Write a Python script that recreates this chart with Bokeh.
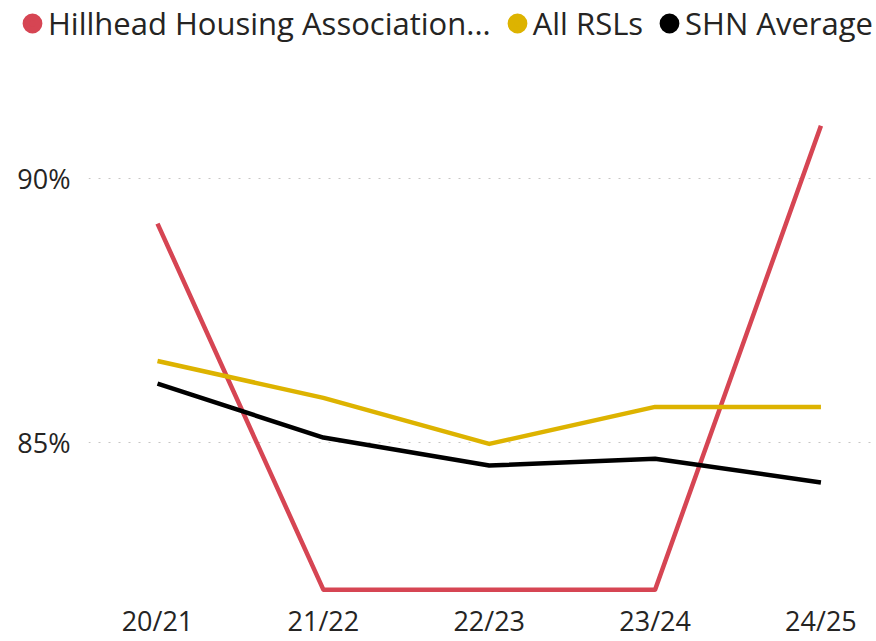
from bokeh.plotting import figure
from bokeh.layouts import column
from bokeh.models import Range1d, FixedTicker, Legend, LegendItem
from bokeh.embed import file_html
from bokeh.resources import INLINE

categories = ["20/21", "21/22", "22/23", "23/24", "24/25"]
hillhead = [89.15, 82.22, 82.22, 82.22, 91.0]
all_rsls = [86.55, 85.85, 84.98, 85.68, 85.68]
shn_avg = [86.12, 85.10, 84.57, 84.70, 84.25]
y_ticks = [85, 90]
y_tick_labels = ["85%", "90%"]

series_names = ["Hillhead Housing Association...", "All RSLs", "SHN Average"]
colors = ["#D64553", "#DDB300", "#000000"]

x = list(range(len(categories)))

LEG_H = 50

# legend strip (its own small figure, frame spanning the whole width)
lf = figure(width=876, height=LEG_H, output_backend="svg", toolbar_location=None,
            x_axis_type=None, y_axis_type=None,
            x_range=Range1d(0, 1), y_range=Range1d(0, 1),
            min_border=0)
lf.frame_align = False
lf.outline_line_color = None
lf.xgrid.grid_line_color = None
lf.ygrid.grid_line_color = None

items = []
for name, vals, col in zip(series_names, [hillhead, all_rsls, shn_avg], colors):
    # zero-size markers (outside this strip's ranges); only the legend swatch shows
    d = lf.scatter(x, vals, size=0, fill_color=col, line_color=col, line_width=7)
    items.append(LegendItem(label=name, renderers=[d]))

legend = Legend(items=items, orientation="horizontal", location=(16, 6),
                label_text_font="Open Sans", label_text_font_size="31px",
                label_text_color="#252423", glyph_width=32, glyph_height=32,
                label_standoff=0, spacing=10, padding=0, margin=0,
                border_line_color=None, background_fill_alpha=0)
lf.add_layout(legend, "center")

# main chart
p = figure(width=876, height=641 - LEG_H, output_backend="svg", toolbar_location=None,
           x_range=Range1d(-0.416, 4.335), y_range=Range1d(82.11, 91.48),
           min_border_left=88, min_border_right=0, min_border_top=100 - LEG_H,
           min_border_bottom=0)
p.frame_align = False
p.outline_line_color = None
p.background_fill_color = "white"

for vals, col in zip([hillhead, all_rsls, shn_avg], colors):
    p.line(x, vals, line_color=col, line_width=4.5, line_join="round")

p.xaxis.ticker = FixedTicker(ticks=x)
p.xaxis.major_label_overrides = {i: c for i, c in zip(x, categories)}
p.yaxis.ticker = FixedTicker(ticks=y_ticks)
p.yaxis.major_label_overrides = {t: l for t, l in zip(y_ticks, y_tick_labels)}

for ax in (p.xaxis, p.yaxis):
    ax.axis_line_color = None
    ax.major_tick_line_color = None
    ax.minor_tick_line_color = None
    ax.major_tick_out = 0
    ax.major_tick_in = 0
    ax.major_label_text_font = "Open Sans"
    ax.major_label_text_font_size = "27px"
    ax.major_label_text_color = "#252423"
p.yaxis.major_label_standoff = 18
p.xaxis.major_label_standoff = 6

p.xgrid.grid_line_color = None
p.ygrid.grid_line_color = "#C8C6C4"
p.ygrid.grid_line_dash = "2 8"
p.ygrid.grid_line_width = 1

layout = column(lf, p, spacing=0)
open("out.html", "w").write(file_html(layout, INLINE))
